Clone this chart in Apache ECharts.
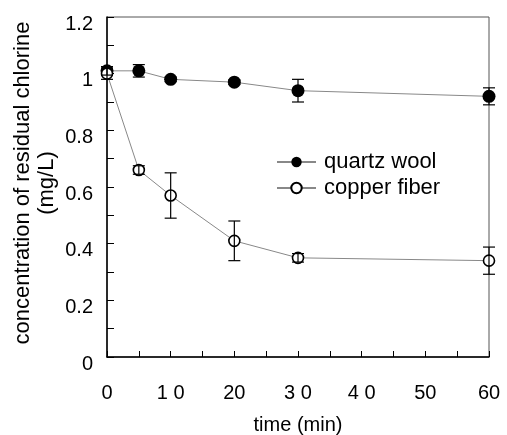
<!DOCTYPE html>
<html><head><meta charset="utf-8">
<script src="https://cdn.jsdelivr.net/npm/echarts@6/dist/echarts.min.js"></script>
<style>html,body{margin:0;padding:0;background:#fff}#c{width:507px;height:435px}</style>
</head><body><div id="c"></div>
<script>
var time = [0, 5, 10, 20, 30, 60];
var quartz = [1.01, 1.01, 0.98, 0.97, 0.94, 0.92];
var quartzErr = [0.015, 0.022, 0.008, 0.008, 0.04, 0.03];
var copper = [1.0, 0.66, 0.57, 0.41, 0.35, 0.34];
var copperErr = [0.02, 0.015, 0.08, 0.07, 0.015, 0.048];
var xTickValues = [0, 10, 20, 30, 40, 50, 60];
var xTickLabels = ['0', '1 0', '20', '3 0', '4 0', '50', '60'];
var yTickValues = [0, 0.2, 0.4, 0.6, 0.8, 1, 1.2];
var yTickLabels = ['0', '0.2', '0.4', '0.6', '0.8', '1', '1.2'];

var FONT = 'Liberation Sans';
function pairs(xs, ys) { return xs.map(function (x, i) { return [x, ys[i]]; }); }
function errData(xs, ys, es) { return xs.map(function (x, i) { return [x, ys[i] - es[i], ys[i] + es[i]]; }); }
function errRender(params, api) {
  var x = api.value(0);
  var lo = api.coord([x, api.value(1)]);
  var hi = api.coord([x, api.value(2)]);
  var w = 6;
  var st = { stroke: '#000', lineWidth: 1.2 };
  return { type: 'group', children: [
    { type: 'line', shape: { x1: lo[0], y1: lo[1], x2: hi[0], y2: hi[1] }, style: st },
    { type: 'line', shape: { x1: lo[0] - w, y1: lo[1], x2: lo[0] + w, y2: lo[1] }, style: st },
    { type: 'line', shape: { x1: hi[0] - w, y1: hi[1], x2: hi[0] + w, y2: hi[1] }, style: st }
  ]};
}

var chart = echarts.init(document.getElementById('c'), null, { renderer: 'canvas' });
chart.setOption({
  animation: false,
  textStyle: { fontFamily: FONT },
  grid: { left: 107, right: 18, top: 17, bottom: 78, show: true, borderColor: '#555', borderWidth: 1, outerBoundsMode: 'none', containLabel: false },
  legend: {
    left: 276, top: 151, padding: 0, orient: 'vertical', itemGap: 4, itemWidth: 39, itemHeight: 13,
    formatter: function (name) { return '{t|' + name + '}'; },
    textStyle: { fontFamily: FONT, fontSize: 22, color: '#000',
      rich: { t: { fontFamily: FONT, fontSize: 22, color: '#000', padding: [0, 0, 0, 3] } } },
    data: ['quartz wool', 'copper fiber']
  },
  xAxis: {
    type: 'value', min: 0, max: 60, interval: 5,
    name: 'time (min)', nameLocation: 'middle', nameGap: 58,
    nameTextStyle: { fontFamily: FONT, fontSize: 20, color: '#000' },
    axisLine: { lineStyle: { color: '#000', width: 1.5 } },
    axisTick: { inside: true, length: 6, lineStyle: { color: '#000' } },
    splitLine: { show: false },
    axisLabel: {
      margin: 26, fontSize: 20, color: '#000', fontFamily: FONT,
      formatter: function (v) { var i = xTickValues.indexOf(v); return i >= 0 ? xTickLabels[i] : ''; }
    }
  },
  yAxis: {
    type: 'value', min: 0, max: 1.2, interval: 0.1,
    name: 'concentration of residual chlorine\n(mg/L)', nameLocation: 'middle', nameGap: 48, nameRotate: 90,
    nameMoveOverlap: false,
    nameTextStyle: { fontFamily: FONT, fontSize: 22, color: '#000', lineHeight: 24, padding: [0, 0, 0, 8] },
    axisLine: { lineStyle: { color: '#000', width: 1.5 } },
    axisTick: { inside: true, length: 7, lineStyle: { color: '#000' } },
    splitLine: { show: false },
    axisLabel: {
      margin: 14, fontSize: 20, color: '#000', fontFamily: FONT, verticalAlign: 'top', lineHeight: 14,
      formatter: function (v) {
        for (var i = 0; i < yTickValues.length; i++) { if (Math.abs(yTickValues[i] - v) < 1e-6) return yTickLabels[i]; }
        return '';
      }
    }
  },
  series: [
    {
      name: 'quartz wool', type: 'line', data: pairs(time, quartz), z: 3,
      symbol: 'circle', symbolSize: 13,
      lineStyle: { color: '#888', width: 1 },
      itemStyle: { color: '#000' }
    },
    {
      name: 'copper fiber', type: 'line', data: pairs(time, copper), z: 3,
      symbol: 'circle', symbolSize: 11,
      lineStyle: { color: '#888', width: 1 },
      itemStyle: { color: '#fff', borderColor: '#000', borderWidth: 1.6 }
    },
    { type: 'custom', renderItem: errRender, data: errData(time, quartz, quartzErr), z: 4, silent: true },
    { type: 'custom', renderItem: errRender, data: errData(time, copper, copperErr), z: 4, silent: true }
  ]
});
</script></body></html>
